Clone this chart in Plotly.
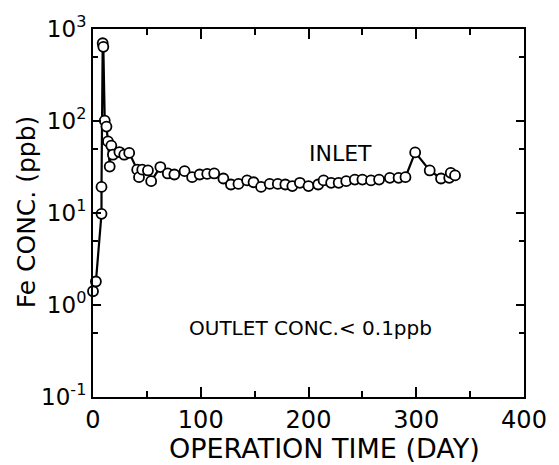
import plotly.graph_objects as go

days = [0, 2.7, 7.9, 7.9, 9.0, 9.6, 10.9, 12.5, 13.9, 15.5, 17, 18.5, 24.5, 29, 33.6,
        41, 42.7, 45.7, 51, 54, 62.5, 69.4, 75.5, 85, 92, 99, 106, 112.5, 121, 128,
        135, 143, 149, 156, 164, 171.5, 178.5, 185, 192, 200, 209, 214, 221, 228,
        235, 243, 250, 258, 265.5, 275.5, 283.6, 290, 299, 312.5, 323, 330.6, 332, 336]
fe_inlet = [1.41, 1.8, 9.8, 19.2, 700, 640, 101, 87, 60, 32, 54, 43, 46, 43, 45,
            29.6, 24.5, 29.6, 29, 22.2, 31.6, 26.9, 26.2, 28.5, 24.5, 26.2, 26.6, 26.9, 23.7, 20.4,
            20.7, 22.6, 21.6, 19.2, 20.7, 20.7, 20.4, 19.6, 21.3, 19.6, 20.4, 22.6, 21.3, 21.3,
            22.2, 23.1, 23.1, 22.6, 23.1, 24.1, 24.1, 24.5, 45.6, 29, 23.7, 24.1, 27.3, 25.6]

x_ticks = [0, 100, 200, 300, 400]
x_minor = [50, 150, 250, 350]
y_ticks = [0.1, 1, 10, 100, 1000]
y_ticktext = ["10<sup>-1</sup>", "10<sup>0</sup>", "10<sup>1</sup>", "10<sup>2</sup>", "10<sup>3</sup>"]
y_minor = [0.5, 5, 50, 500]

FONT = "DejaVu Sans"

fig = go.Figure()
fig.add_trace(go.Scatter(
    x=days, y=fe_inlet, mode="lines+markers",
    line=dict(color="black", width=2.2),
    marker=dict(symbol="circle", size=10, color="white", line=dict(color="black", width=1.8)),
    cliponaxis=False, showlegend=False,
))

fig.update_layout(
    width=559, height=465,
    margin=dict(l=93, r=26, t=27, b=68),
    paper_bgcolor="white", plot_bgcolor="white",
    font=dict(family=FONT, color="black"),
    xaxis=dict(
        range=[0, 400], tickvals=x_ticks, ticks="inside", ticklen=10, tickwidth=2,
        tickcolor="black", showline=True, linecolor="black", linewidth=2, mirror="ticks",
        showgrid=False, zeroline=False, tickfont=dict(size=24, family=FONT),
        minor=dict(tickvals=x_minor, ticks="inside", ticklen=6, tickwidth=2, tickcolor="black"),
    ),
    yaxis=dict(
        type="log", range=[-1, 3], tickvals=y_ticks, ticktext=y_ticktext,
        ticks="inside", ticklen=8, tickwidth=2, tickcolor="black",
        showline=True, linecolor="black", linewidth=2, mirror="ticks",
        showgrid=False, zeroline=False, tickfont=dict(size=23, family=FONT),
        minor=dict(tickvals=y_minor, ticks="inside", ticklen=5, tickwidth=2, tickcolor="black"),
    ),
    annotations=[
        dict(text="INLET", x=0.575, y=0.661, xref="paper", yref="paper",
             showarrow=False, font=dict(size=22, family=FONT)),
        dict(text="OUTLET CONC.&lt; 0.1ppb", x=0.5045, y=0.149, xref="paper", yref="paper",
             showarrow=False, font=dict(size=20, family=FONT)),
        dict(text="OPERATION TIME (DAY)", x=0.536, y=-0.14, xref="paper", yref="paper",
             showarrow=False, font=dict(size=27, family=FONT), yanchor="middle"),
        dict(text="Fe CONC. (ppb)", x=-0.1545, y=0.503, xref="paper", yref="paper",
             showarrow=False, textangle=-90, font=dict(size=25, family=FONT),
             xanchor="center", yanchor="middle"),
    ],
)

fig.write_html("out.html")
